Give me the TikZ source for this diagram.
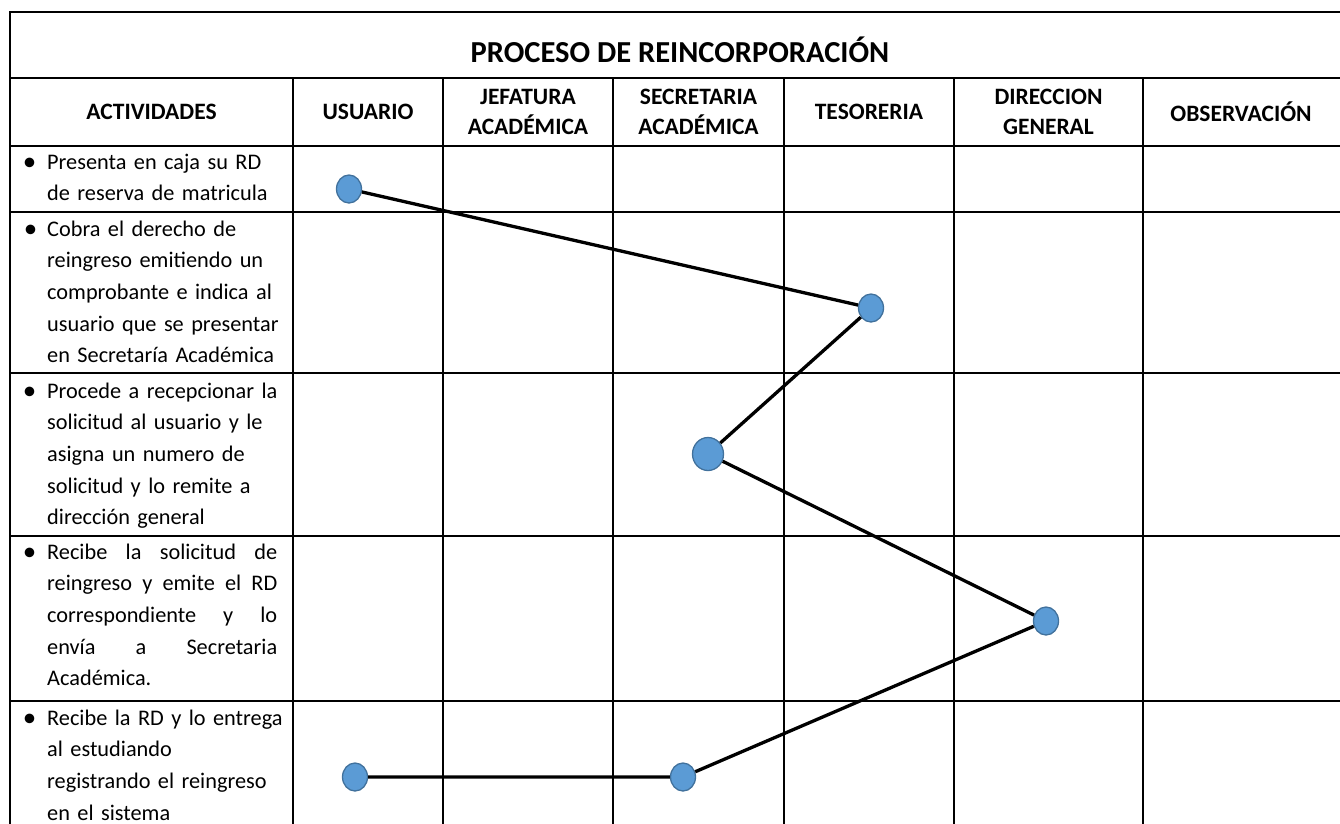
\documentclass[tikz,border=0pt]{standalone}
\usepackage{fontspec}
\setmainfont{Carlito}
\usetikzlibrary{shapes.geometric}
\definecolor{dotfill}{HTML}{5B9BD5}
\definecolor{dotedge}{HTML}{41719C}
\begin{document}
\begin{tikzpicture}[x=1pt,y=-1pt,
  grid/.style={line width=2pt, black},
  outer/.style={line width=2.6pt, black},
  hdr/.style={font=\bfseries\fontsize{23.5}{30}\selectfont, align=center, inner sep=0pt},
  ttl/.style={font=\bfseries\fontsize{30.5}{36}\selectfont, inner sep=0pt, anchor=base},
  act/.style={font=\fontsize{22.3}{31.7}\selectfont, text width=270pt, align=left, inner sep=0pt, anchor=base west},
  actj/.style={font=\fontsize{22.3}{31.7}\selectfont, text width=230pt, align=justify, inner sep=0pt, anchor=base west},
  bul/.style={font=\fontsize{27}{31.7}\selectfont, inner sep=0pt, anchor=base},
  dot/.style={ellipse, fill=dotfill, draw=dotedge, line width=1.3pt, minimum width=25pt, minimum height=28pt, inner sep=0pt},
  bigdot/.style={dot, minimum width=31pt, minimum height=33pt},
  link/.style={line width=3.3pt, black}
]
\useasboundingbox (0,0) rectangle (1340,823);

% table grid
\draw[outer] (1342,12) -- (10,12) -- (10,830);
\draw[grid] (10,78) -- (1342,78);
\draw[grid] (10,146) -- (1342,146);
\foreach \yy in {212,373,536,701} {\draw[grid] (10,\yy) -- (1342,\yy);}
\foreach \xx in {293,443,613,784,954,1143} {\draw[grid] (\xx,78) -- (\xx,830);}

% title and headers
\node[ttl] (title) at (680,62) {PROCESO DE REINCORPORACIÓN};
\node[hdr] (hact) at (151.5,112) {ACTIVIDADES};
\node[hdr] (husu) at (368,112) {USUARIO};
\node[hdr] (hjef) at (528,112) {JEFATURA\\ACADÉMICA};
\node[hdr] (hsec) at (698.5,112) {SECRETARIA\\ACADÉMICA};
\node[hdr] (htes) at (869,112) {TESORERIA};
\node[hdr] (hdir) at (1048.5,112) {DIRECCION\\GENERAL};
\node[hdr] (hobs) at (1241,112) {OBSERVACIÓN};

% activities
\node[bul] (b1) at (29.5,170) {•};
\node[act] (a1) at (47,169) {Presenta en caja su RD\\de reserva de matricula};
\node[bul] (b2) at (30.5,237) {•};
\node[act] (a2) at (47,236) {Cobra el derecho de\\reingreso emitiendo un\\comprobante e indica al\\usuario que se presentar\\en Secretaría Académica};
\node[bul] (b3) at (29.5,399) {•};
\node[act] (a3) at (47,398) {Procede a recepcionar la\\solicitud al usuario y le\\asigna un numero de\\solicitud y lo remite a\\dirección general};
\node[bul] (b4) at (29.5,560) {•};
\node[actj] (a4) at (47,559) {Recibe la solicitud de\linebreak reingreso y emite el RD\linebreak correspondiente y lo\linebreak envía a Secretaria\linebreak Académica.};
\node[bul] (b5) at (29.5,726) {•};
\node[act] (a5) at (47,725) {Recibe la RD y lo entrega\\al estudiando\\registrando el reingreso\\en el sistema};

% flow
\node[dot] (c1) at (349,189) {};
\node[dot] (c2) at (871,308) {};
\node[bigdot] (c3) at (708,454) {};
\node[dot] (c4) at (1046,621) {};
\node[dot] (c5) at (355,777) {};
\node[dot] (c6) at (683,777) {};
\draw[link] (c1) -- (c2) -- (c3) -- (c4) -- (c6) -- (c5);
\end{tikzpicture}
\end{document}
